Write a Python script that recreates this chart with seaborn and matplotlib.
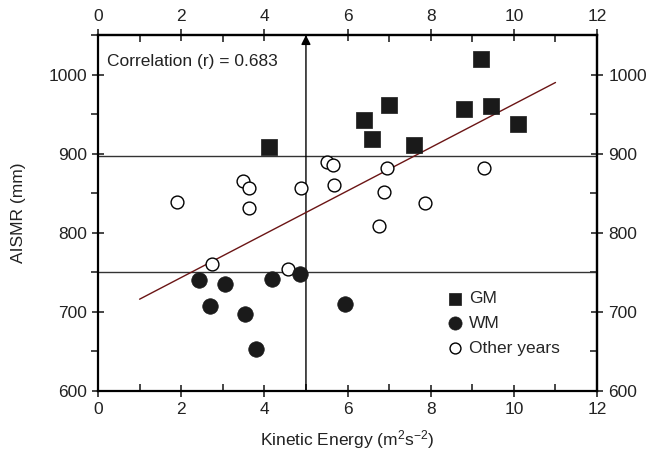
import matplotlib
matplotlib.use("Agg")
import matplotlib.pyplot as plt
import seaborn as sns
import pandas as pd
from matplotlib.ticker import MultipleLocator

# Data
gm_x = [4.1, 6.4, 6.6, 7.0, 7.6, 8.8, 9.2, 9.45, 10.1]
gm_y = [909, 942, 919, 962, 911, 956, 1020, 960, 938]
wm_x = [2.43, 2.69, 3.05, 3.53, 3.79, 4.19, 4.85, 5.95]
wm_y = [740, 707, 735, 697, 653, 742, 748, 710]
oth_x = [1.91, 3.49, 3.62, 3.63, 4.89, 5.50, 5.64, 5.67, 6.95, 9.28, 6.88, 7.87, 6.76, 2.73, 4.57]
oth_y = [839, 866, 857, 831, 856, 889, 886, 860, 882, 882, 852, 837, 809, 760, 754]
fit_x = [1.0, 11.0]
fit_y = [716, 990]
hlines = [897, 751]
vline_x = 5.0
r_text = "Correlation (r) = 0.683"

sns.set_theme(style="ticks")
plt.rcParams["font.family"] = ["Liberation Sans", "DejaVu Sans"]
plt.rcParams["mathtext.fontset"] = "custom"
plt.rcParams["mathtext.rm"] = "Liberation Sans"
plt.rcParams["mathtext.it"] = "Liberation Sans"

fig = plt.figure(figsize=(6.49, 4.61), dpi=100)
ax = fig.add_axes([0.151, 0.152, 0.769, 0.772])

gm = pd.DataFrame({"x": gm_x, "y": gm_y})
wm = pd.DataFrame({"x": wm_x, "y": wm_y})
ot = pd.DataFrame({"x": oth_x, "y": oth_y})
fit = pd.DataFrame({"x": fit_x, "y": fit_y})

for yv in hlines:
    ax.axhline(yv, color="#333333", lw=1.0, zorder=1)
ax.annotate("", xy=(vline_x, 1050), xytext=(vline_x, 600),
            arrowprops=dict(arrowstyle="-|>", color="black", lw=1.0,
                            mutation_scale=14, shrinkA=0, shrinkB=0),
            annotation_clip=False, zorder=2)
sns.lineplot(data=fit, x="x", y="y", ax=ax, color="#6b1515", lw=1.0, zorder=2)

sns.scatterplot(data=gm, x="x", y="y", ax=ax, marker="s", s=120, color="#1a1a1a",
                edgecolor="#1a1a1a", linewidth=0.5, label="GM", zorder=4)
sns.scatterplot(data=wm, x="x", y="y", ax=ax, marker="o", s=125, color="#1a1a1a",
                edgecolor="#1a1a1a", linewidth=0.5, label="WM", zorder=4)
sns.scatterplot(data=ot, x="x", y="y", ax=ax, marker="o", s=85, facecolor="white",
                edgecolor="black", linewidth=1.0, label="Other years", zorder=3)

ax.set_xlim(0, 12)
ax.set_ylim(600, 1050)
ax.xaxis.set_major_locator(MultipleLocator(2))
ax.xaxis.set_minor_locator(MultipleLocator(1))
ax.yaxis.set_major_locator(MultipleLocator(100))
ax.yaxis.set_minor_locator(MultipleLocator(50))
ax.set_xlabel(r"Kinetic Energy (m$^2$s$^{-2}$)", fontsize=12.5, color="#222222", labelpad=8)
ax.set_ylabel("AISMR (mm)", fontsize=12.5, color="#222222", labelpad=16)

for s in ax.spines.values():
    s.set_visible(True)
    s.set_linewidth(1.6)
    s.set_color("black")

ax.tick_params(which="major", direction="inout", length=9, width=1.2, labelsize=12.5,
               labelcolor="#222222")
ax.tick_params(which="minor", direction="in", length=5, width=1.2)
ax.tick_params(axis="y", which="minor", direction="out", length=5)

secx = ax.secondary_xaxis("top")
secx.xaxis.set_major_locator(MultipleLocator(2))
secx.xaxis.set_minor_locator(MultipleLocator(1))
secx.tick_params(which="major", direction="inout", length=9, width=1.2, labelsize=12.5,
                 labelcolor="#222222")
secx.tick_params(which="minor", direction="in", length=5, width=1.2)
secy = ax.secondary_yaxis("right")
secy.yaxis.set_major_locator(MultipleLocator(100))
secy.yaxis.set_minor_locator(MultipleLocator(50))
secy.tick_params(which="major", direction="inout", length=9, width=1.2, labelsize=12.5,
                 labelcolor="#222222")
secy.tick_params(which="minor", direction="in", length=5, width=1.2)
for sa in (secx, secy):
    for s in sa.spines.values():
        s.set_linewidth(1.6)
secx.xaxis.label.set_visible(False)
secx.xaxis.offsetText.set_visible(False)
secy.yaxis.label.set_visible(False)
secy.yaxis.offsetText.set_visible(False)
ax.xaxis.offsetText.set_visible(False)
ax.yaxis.offsetText.set_visible(False)

ax.text(0.018, 0.925, r_text, transform=ax.transAxes, fontsize=12.5,
        color="#222222", va="center", ha="left")

leg = ax.legend(loc="upper left", bbox_to_anchor=(0.685, 0.30), frameon=False,
                fontsize=12.5, handletextpad=0.3, labelspacing=0.55,
                borderaxespad=0.0, handlelength=1.0, markerscale=0.85)

fig.savefig("out.png", dpi=100)
